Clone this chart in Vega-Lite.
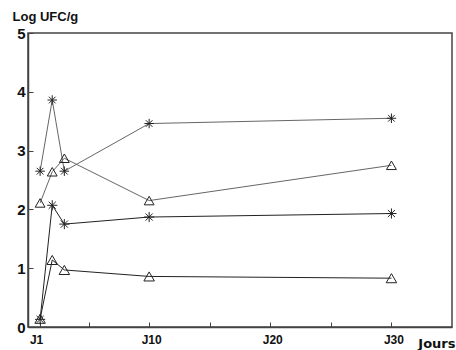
{
  "$schema": "https://vega.github.io/schema/vega-lite/v6.json",
  "autosize": {"type": "none"},
  "padding": {"left": 28, "top": 33, "right": 4, "bottom": 23},
  "width": 424,
  "height": 294,
  "background": "#ffffff",
  "config": {
    "view": {"stroke": "#444444", "strokeWidth": 1.5},
    "font": "Liberation Sans"
  },
  "data": {
    "values": [
      {"series": "A", "day": 1, "value": 2.65},
      {"series": "A", "day": 2, "value": 3.86},
      {"series": "A", "day": 3, "value": 2.65},
      {"series": "A", "day": 10, "value": 3.46},
      {"series": "A", "day": 30, "value": 3.55},
      {"series": "B", "day": 1, "value": 2.11},
      {"series": "B", "day": 2, "value": 2.64},
      {"series": "B", "day": 3, "value": 2.87},
      {"series": "B", "day": 10, "value": 2.15},
      {"series": "B", "day": 30, "value": 2.75},
      {"series": "C", "day": 1, "value": 0.13},
      {"series": "C", "day": 2, "value": 2.07},
      {"series": "C", "day": 3, "value": 1.75},
      {"series": "C", "day": 10, "value": 1.87},
      {"series": "C", "day": 30, "value": 1.93},
      {"series": "D", "day": 1, "value": 0.14},
      {"series": "D", "day": 2, "value": 1.14},
      {"series": "D", "day": 3, "value": 0.97},
      {"series": "D", "day": 10, "value": 0.86},
      {"series": "D", "day": 30, "value": 0.83}
    ]
  },
  "encoding": {
    "x": {
      "field": "day", "type": "quantitative",
      "scale": {"domain": [0, 35], "nice": false, "zero": false},
      "axis": {
        "values": [1, 5, 10, 15, 20, 25, 30],
        "labelExpr": "datum.value == 1 ? 'J1' : (datum.value % 10 == 0 ? 'J' + datum.value : '')",
        "labelOffset": {"condition": {"test": "datum.value == 1", "value": -4}, "value": 2},
        "grid": false,
        "domainColor": "#444444", "domainWidth": 1.5,
        "tickColor": "#444444", "tickSize": -5, "tickWidth": 1,
        "labelFont": "Liberation Sans", "labelFontWeight": "bold", "labelFontSize": 12,
        "labelColor": "#111111", "labelPadding": 12, "labelFlush": false,
        "title": "Jours",
        "titleFont": "DejaVu Sans", "titleFontWeight": "bold", "titleFontSize": 13,
        "titleColor": "#111111",
        "titleAlign": "right", "titleAnchor": null, "titleBaseline": "alphabetic",
        "titleX": 427, "titleY": 20
      }
    },
    "y": {
      "field": "value", "type": "quantitative",
      "scale": {"domain": [0, 5], "nice": false},
      "axis": {
        "values": [0, 1, 2, 3, 4, 5],
        "grid": false,
        "domainColor": "#444444", "domainWidth": 1.5,
        "tickColor": "#444444", "tickSize": -5, "tickWidth": 1,
        "labelFont": "Liberation Sans", "labelFontWeight": "bold", "labelFontSize": 15,
        "labelColor": "#111111", "labelPadding": 8,
        "title": "Log UFC/g",
        "titleFont": "Liberation Sans", "titleFontWeight": "bold", "titleFontSize": 13,
        "titleColor": "#111111",
        "titleAngle": 0, "titleAlign": "left", "titleAnchor": null, "titleBaseline": "alphabetic",
        "titleX": -16, "titleY": -13
      }
    },
    "detail": {"field": "series"}
  },
  "layer": [
    {
      "mark": {"type": "line"},
      "encoding": {
        "color": {
          "field": "series", "type": "nominal",
          "scale": {"domain": ["A", "B", "C", "D"], "range": ["#666666", "#666666", "#222222", "#222222"]},
          "legend": null
        },
        "strokeWidth": {
          "field": "series", "type": "nominal",
          "scale": {"domain": ["A", "B", "C", "D"], "range": [1, 1, 1.6, 1.6]},
          "legend": null
        }
      }
    },
    {
      "mark": {"type": "point", "filled": false, "strokeWidth": 1, "opacity": 1},
      "encoding": {
        "shape": {
          "field": "series", "type": "nominal",
          "scale": {
            "domain": ["A", "B", "C", "D"],
            "range": [
              "M-1,0L1,0M0,-1L0,1M-0.7,-0.7L0.7,0.7M-0.7,0.7L0.7,-0.7",
              "triangle-up",
              "M-1,0L1,0M0,-1L0,1M-0.7,-0.7L0.7,0.7M-0.7,0.7L0.7,-0.7",
              "triangle-up"
            ]
          },
          "legend": null
        },
        "size": {
          "field": "series", "type": "nominal",
          "scale": {"domain": ["A", "B", "C", "D"], "range": [90, 110, 90, 110]},
          "legend": null
        },
        "color": {"value": "#222222"}
      }
    }
  ]
}
